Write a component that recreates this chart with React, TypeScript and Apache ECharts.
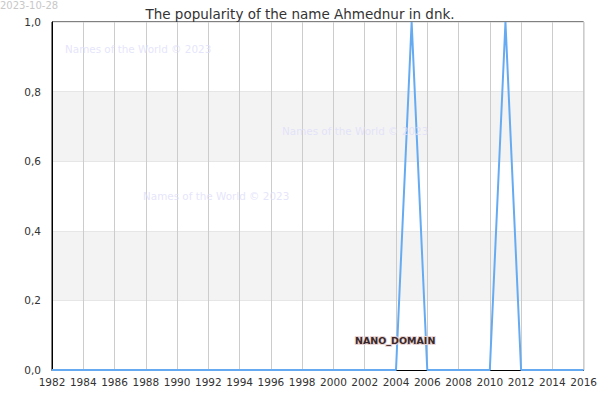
import * as echarts from "echarts"
import { useEffect, useRef } from "react"

const years = [
    1982, 1983, 1984, 1985, 1986, 1987, 1988, 1989, 1990, 1991, 1992, 1993,
    1994, 1995, 1996, 1997, 1998, 1999, 2000, 2001, 2002, 2003, 2004, 2005,
    2006, 2007, 2008, 2009, 2010, 2011, 2012, 2013, 2014, 2015, 2016,
]
const popularity = [
    0, 0, 0, 0, 0, 0, 0, 0, 0, 0, 0, 0,
    0, 0, 0, 0, 0, 0, 0, 0, 0, 0, 0, 1,
    0, 0, 0, 0, 0, 1, 0, 0, 0, 0, 0,
]
const title = "The popularity of the name Ahmednur in dnk."
const stamp = "2023-10-28"
const watermark = "Names of the World © 2023"

const App: React.FC = () => {
    const ref = useRef<HTMLDivElement | null>(null)

    useEffect(() => {
        if (!ref.current) return
        const chart = echarts.init(ref.current, null, { renderer: "svg" })
        const font = "DejaVu Sans"
        const wm = { fill: "rgba(222,222,250,0.8)", fontSize: 10.4, fontFamily: font }

        chart.setOption({
            animation: false,
            textStyle: { fontFamily: font },
            title: {
                text: title,
                left: "center",
                top: 2,
                textStyle: { fontSize: 13.5, fontWeight: "normal", color: "#333", fontFamily: font },
            },
            grid: {
                left: 52, right: 15, top: 22, bottom: 30,
                show: true, borderColor: "#000", borderWidth: 1,
            },
            xAxis: {
                type: "value",
                min: 1982,
                max: 2016,
                interval: 2,
                axisLine: { lineStyle: { color: "#000" } },
                axisTick: { show: false },
                axisLabel: { color: "#333", fontSize: 10.5, margin: 6, formatter: (v: number) => String(v) },
                splitLine: { show: true, lineStyle: { color: "#ccc" } },
            },
            yAxis: {
                type: "value",
                min: 0,
                max: 1,
                interval: 0.2,
                axisLine: { show: true, lineStyle: { color: "#000" } },
                axisTick: { show: false },
                axisLabel: {
                    color: "#333", fontSize: 10.5, margin: 11,
                    formatter: (v: number) => v.toFixed(1).replace(".", ","),
                },
                splitLine: { show: true, lineStyle: { color: "#e6e6e6" } },
                splitArea: { show: true, areaStyle: { color: ["#fff", "#f3f3f3"] } },
            },
            series: [
                {
                    type: "line",
                    data: years.map((y, i) => [y, popularity[i]]),
                    showSymbol: false,
                    lineStyle: { color: "#66abf1", width: 2 },
                    itemStyle: { color: "#66abf1" },
                },
            ],
            graphic: [
                {
                    type: "text", left: 0, top: 0, z: 100,
                    style: { text: stamp, fill: "#c8c8c8", fontSize: 10, fontFamily: font },
                },
                { type: "text", left: 65, top: 44, z: 100, style: { text: watermark, ...wm } },
                { type: "text", left: 282, top: 126, z: 100, style: { text: watermark, ...wm } },
                { type: "text", left: 143, top: 191, z: 100, style: { text: watermark, ...wm } },
                {
                    type: "text", left: 354, top: 334, z: 100,
                    style: {
                        text: "NANO_DOMAIN", fill: "#3a2828", stroke: "#e8d4d4", lineWidth: 2,
                        fontSize: 9.5, fontWeight: "bold", fontFamily: font,
                    },
                },
            ],
        })

        return () => chart.dispose()
    }, [])

    return <div ref={ref} style={{ position: "absolute", left: 0, top: 0, width: 600, height: 400 }} />
}

export default App
